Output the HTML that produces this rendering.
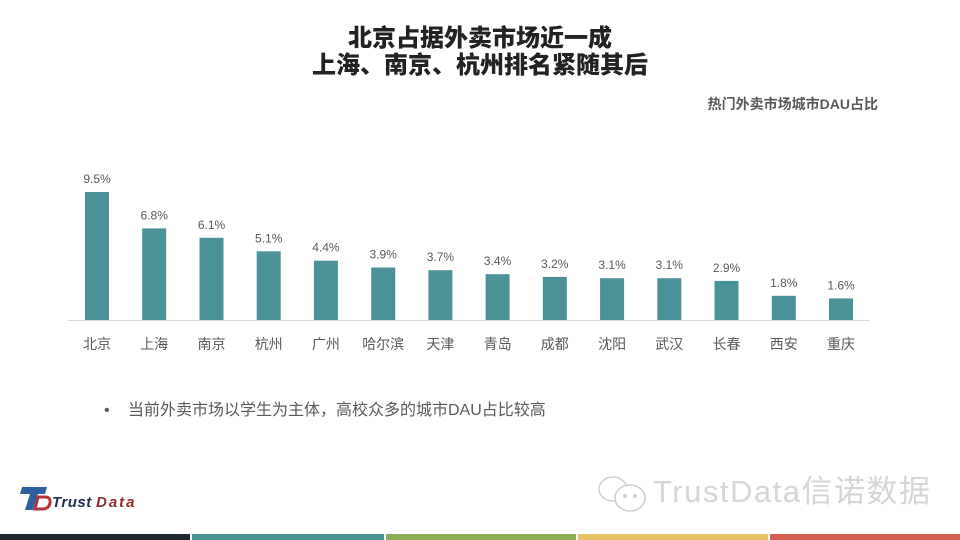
<!DOCTYPE html>
<html>
<head>
<meta charset="utf-8">
<style>
  html,body{margin:0;padding:0;background:#fff;}
  body{width:960px;height:540px;position:relative;overflow:hidden;font-family:"Liberation Sans","Noto Sans CJK SC",sans-serif;}
  .title{position:absolute;left:0;width:960px;text-align:center;font-family:"Liberation Sans","Noto Sans CJK SC",sans-serif;font-weight:900;font-size:24px;line-height:27px;color:#222;}
  .sub{position:absolute;right:82px;top:95px;font-size:14px;font-weight:bold;color:#595959;line-height:18px;font-family:"Liberation Sans","Noto Sans CJK SC",sans-serif;}
  .bullet{position:absolute;left:104px;top:400px;font-size:16px;color:#595959;line-height:22px;font-family:"Liberation Sans","Noto Sans CJK SC",sans-serif;}
  .stripe{position:absolute;top:534px;height:6px;}
</style>
</head>
<body>
<div class="title" style="top:25px;">北京占据外卖市场近一成</div>
<div class="title" style="top:52px;">上海、南京、杭州排名紧随其后</div>
<div class="sub">热门外卖市场城市DAU占比</div>

<svg width="960" height="540" style="position:absolute;left:0;top:0;" xmlns="http://www.w3.org/2000/svg">
  <line x1="68" y1="320.5" x2="870" y2="320.5" stroke="#d9d9d9" stroke-width="1"/>
  <g fill="#4a9297">
    <rect x="85" y="192" width="24" height="128"/>
    <rect x="142.2" y="228.4" width="24" height="91.6"/>
    <rect x="199.5" y="237.8" width="24" height="82.2"/>
    <rect x="256.7" y="251.3" width="24" height="68.7"/>
    <rect x="313.9" y="260.7" width="24" height="59.3"/>
    <rect x="371.2" y="267.5" width="24" height="52.5"/>
    <rect x="428.4" y="270.2" width="24" height="49.8"/>
    <rect x="485.6" y="274.2" width="24" height="45.8"/>
    <rect x="542.8" y="276.9" width="24" height="43.1"/>
    <rect x="600.1" y="278.2" width="24" height="41.8"/>
    <rect x="657.3" y="278.2" width="24" height="41.8"/>
    <rect x="714.5" y="280.9" width="24" height="39.1"/>
    <rect x="771.8" y="295.8" width="24" height="24.2"/>
    <rect x="829" y="298.4" width="24" height="21.6"/>
  </g>
  <g font-family="Liberation Sans, sans-serif" font-size="12" fill="#595959" text-anchor="middle">
    <text x="97" y="183">9.5%</text>
    <text x="154.2" y="219.4">6.8%</text>
    <text x="211.5" y="228.8">6.1%</text>
    <text x="268.7" y="242.3">5.1%</text>
    <text x="325.9" y="251.7">4.4%</text>
    <text x="383.2" y="258.5">3.9%</text>
    <text x="440.4" y="261.2">3.7%</text>
    <text x="497.6" y="265.2">3.4%</text>
    <text x="554.8" y="267.9">3.2%</text>
    <text x="612.1" y="269.2">3.1%</text>
    <text x="669.3" y="269.2">3.1%</text>
    <text x="726.5" y="271.9">2.9%</text>
    <text x="783.8" y="286.8">1.8%</text>
    <text x="841" y="289.4">1.6%</text>
  </g>
  <g font-family="Liberation Sans, Noto Sans CJK SC, sans-serif" font-size="14" fill="#595959" text-anchor="middle">
    <text x="97" y="349">北京</text>
    <text x="154.2" y="349">上海</text>
    <text x="211.5" y="349">南京</text>
    <text x="268.7" y="349">杭州</text>
    <text x="325.9" y="349">广州</text>
    <text x="383.2" y="349">哈尔滨</text>
    <text x="440.4" y="349">天津</text>
    <text x="497.6" y="349">青岛</text>
    <text x="554.8" y="349">成都</text>
    <text x="612.1" y="349">沈阳</text>
    <text x="669.3" y="349">武汉</text>
    <text x="726.5" y="349">长春</text>
    <text x="783.8" y="349">西安</text>
    <text x="841" y="349">重庆</text>
  </g>

  <!-- logo -->
  <g>
    <polygon points="22,487 47,487 45,494 38,494 33,510 25,510 30,494 20,494" fill="#2f5f9e"/>
    <path d="M38,497 L45,497 Q51,497 50,503 Q49,509 42,509 L35,509 Z" fill="none" stroke="#b5333a" stroke-width="3"/>
    <text x="52" y="507" font-family="Liberation Sans, sans-serif" font-size="15" font-weight="bold" font-style="italic" fill="#22314f" letter-spacing="0.5">Trust</text>
    <text x="96" y="507" font-family="Liberation Sans, sans-serif" font-size="15" font-weight="bold" font-style="italic" fill="#8e2b2e" letter-spacing="2">Data</text>
  </g>

  <!-- watermark -->
  <g fill="none" stroke="#cfcfcf" stroke-width="1.5">
    <ellipse cx="613" cy="489" rx="14" ry="12"/>
    <ellipse cx="630" cy="498" rx="15" ry="13" fill="#fff"/>
    <circle cx="625" cy="496" r="1.2" fill="#cfcfcf"/>
    <circle cx="635" cy="496" r="1.2" fill="#cfcfcf"/>
  </g>
  <text x="653" y="502" font-family="Liberation Sans, Noto Sans CJK SC, sans-serif" font-size="31" fill="#d6d6d6" letter-spacing="1.5">TrustData信诺数据</text>
</svg>

<div class="bullet"><span style="display:inline-block;width:24px;">•</span>当前外卖市场以学生为主体，高校众多的城市DAU占比较高</div>

<div class="stripe" style="left:0;width:190px;background:#1f2833;"></div>
<div class="stripe" style="left:192px;width:192px;background:#4b9295;"></div>
<div class="stripe" style="left:386px;width:190px;background:#8bac56;"></div>
<div class="stripe" style="left:578px;width:190px;background:#e8c167;"></div>
<div class="stripe" style="left:770px;width:190px;background:#d6604f;"></div>
</body>
</html>
